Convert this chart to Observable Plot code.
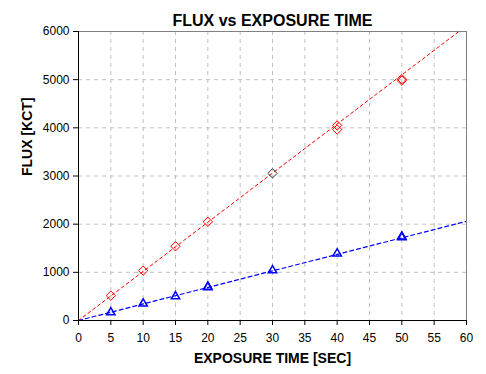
<!DOCTYPE html>
<html>
<head>
<meta charset="utf-8">
<script src="https://cdn.jsdelivr.net/npm/d3@7"></script>
<script src="https://cdn.jsdelivr.net/npm/@observablehq/plot@0.6"></script>
<style>
  html, body { margin: 0; padding: 0; background: #fff; }
  #chart svg { display: block; }
</style>
</head>
<body>
<div id="chart"></div>
<script>
const title = "FLUX vs EXPOSURE TIME";
const xLabel = "EXPOSURE TIME [SEC]";
const yLabel = "FLUX [KCT]";
const xTicks = [0, 5, 10, 15, 20, 25, 30, 35, 40, 45, 50, 55, 60];
const yTicks = [0, 1000, 2000, 3000, 4000, 5000, 6000];

// red series (diamonds)
const redTime = [5, 10, 15, 20, 40, 40, 50, 50];
const redFlux = [515, 1035, 1540, 2050, 4050, 3965, 5010, 4980];
// dark point (overlapping diamonds at 30 s)
const darkTime = [30];
const darkFlux = [3055];
// blue series (triangles)
const blueTime = [5, 10, 15, 20, 20, 30, 40, 50, 50];
const blueFlux = [168, 350, 500, 700, 690, 1040, 1390, 1740, 1725];
// fitted lines (end points)
const fitTime = [0, 60];
const redFit = [0, 6120];
const blueFit = [0, 2060];

const red = redTime.map((t, i) => ({t, f: redFlux[i]}));
const dark = darkTime.map((t, i) => ({t, f: darkFlux[i]}));
const blue = blueTime.map((t, i) => ({t, f: blueFlux[i]}));
const redLine = fitTime.map((t, i) => ({t, f: redFit[i]}));
const blueLine = fitTime.map((t, i) => ({t, f: blueFit[i]}));

const plot = Plot.plot({
  width: 486,
  height: 374,
  marginLeft: 78,
  marginRight: 20,
  marginTop: 31,
  marginBottom: 54,
  style: {fontFamily: "Liberation Sans, Arial, sans-serif", fontSize: "12px", color: "#000", background: "#fff"},
  x: {domain: [0, 60], ticks: xTicks, label: null},
  y: {domain: [0, 6000], ticks: yTicks, label: null},
  marks: [
    Plot.gridX(xTicks.slice(1, -1), {stroke: "#c0c0c0", strokeOpacity: 1, strokeDasharray: "4,4"}),
    Plot.gridY(yTicks.slice(1, -1), {stroke: "#c0c0c0", strokeOpacity: 1, strokeDasharray: "4,4"}),
    Plot.frame({anchor: "top", stroke: "#808080"}),
    Plot.frame({anchor: "right", stroke: "#808080"}),
    Plot.line(redLine, {x: "t", y: "f", stroke: "red", strokeWidth: 1, strokeDasharray: "3,3", clip: true}),
    Plot.line(blueLine, {x: "t", y: "f", stroke: "blue", strokeWidth: 1.2, strokeDasharray: "4,3", clip: true}),
    Plot.dot(red, {x: "t", y: "f", symbol: "diamond2", r: 4.2, stroke: "red", strokeWidth: 1, fill: "none"}),
    Plot.dot(dark, {x: "t", y: "f", symbol: "diamond2", r: 4.2, stroke: "#333", strokeWidth: 1, fill: "none"}),
    Plot.dot(blue, {x: "t", y: "f", symbol: "triangle2", r: 4, stroke: "blue", strokeWidth: 1.5, fill: "none"}),
    Plot.axisX(xTicks, {tickSize: 5, tickPadding: 8, stroke: "#000", fontSize: 12, tickFormat: d3.format("d"), label: null}),
    Plot.axisY(yTicks, {tickSize: 5, tickPadding: 4, stroke: "#000", fontSize: 12, tickFormat: d3.format("d"), label: null}),
    Plot.ruleX([0], {stroke: "#000"}),
    Plot.ruleY([0], {stroke: "#000"}),
    Plot.text([title], {frameAnchor: "top", dy: -17, fontSize: 16, fontWeight: "bold"}),
    Plot.text([xLabel], {frameAnchor: "bottom", dy: 42, fontSize: 14, fontWeight: "bold"}),
    Plot.text([yLabel], {frameAnchor: "left", dx: -51, rotate: -90, fontSize: 14, fontWeight: "bold"})
  ]
});
document.getElementById("chart").appendChild(plot);
</script>
</body>
</html>
